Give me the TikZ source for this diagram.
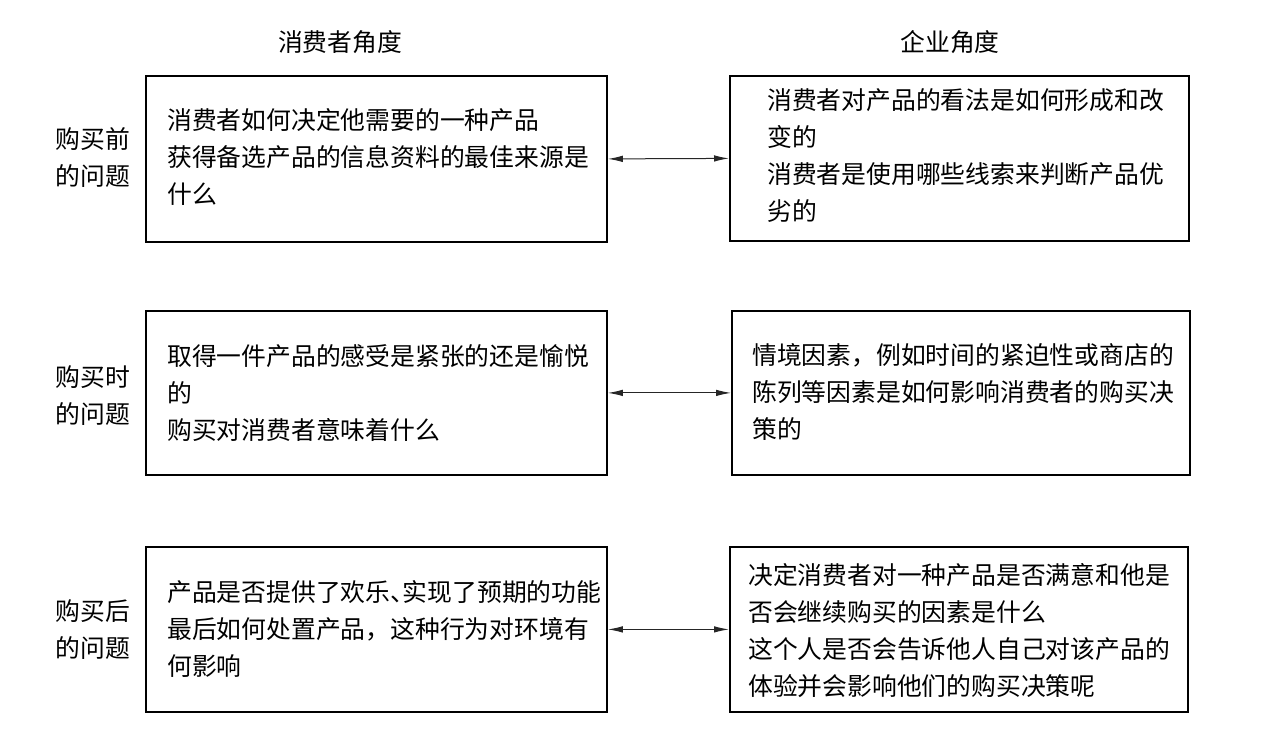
\documentclass[tikz,border=0pt]{standalone}
\usepackage{fontspec}
\newfontfamily\cjk{Noto Sans CJK SC}
\usetikzlibrary{arrows.meta}
\newcommand{\halfdun}{\makebox[0.5em][l]{、}}
\begin{document}
\begin{tikzpicture}[x=1pt,y=-1pt,
  every node/.style={font=\cjk\fontsize{24.8}{37}\selectfont, inner sep=0pt},
  boxr/.style={draw, line width=1.8pt, minimum width=#1, anchor=north west},
  txt/.style={anchor=north west, align=left},
  lab/.style={align=center},
  link/.style={arrows={Latex[length=15pt,width=6.5pt]-Latex[length=15pt,width=6.5pt]}, line width=1pt, draw=black!85}]
\useasboundingbox (0,0) rectangle (1273,734);
% headers
\node (h1) at (340,42) {消费者角度};
\node (h2) at (950,42) {企业角度};
% row labels
\node[lab] (r1) at (93,158) {购买前\\的问题};
\node[lab] (r2) at (93,396) {购买时\\的问题};
\node[lab] (r3) at (93,630) {购买后\\的问题};
% boxes
\node[boxr=461pt, minimum height=166pt] (L1) at (145,75) {};
\node[boxr=459pt, minimum height=165pt] (R1) at (729,75) {};
\node[boxr=461pt, minimum height=164pt] (L2) at (145,310) {};
\node[boxr=458pt, minimum height=164pt] (R2) at (731,310) {};
\node[boxr=461pt, minimum height=165pt] (L3) at (145,546) {};
\node[boxr=458pt, minimum height=165pt] (R3) at (729,546) {};
% texts
\node[txt] (t1) at (167,108) {消费者如何决定他需要的一种产品\\获得备选产品的信息资料的最佳来源是\\什么};
\node[txt] (t2) at (767,88) {消费者对产品的看法是如何形成和改\\变的\\消费者是使用哪些线索来判断产品优\\劣的};
\node[txt] (t3) at (167,344) {取得一件产品的感受是紧张的还是愉悦\\的\\购买对消费者意味着什么};
\node[txt] (t4) at (752,343) {情境因素，例如时间的紧迫性或商店的\\陈列等因素是如何影响消费者的购买决\\策的};
\node[txt] (t5) at (167,580) {产品是否提供了欢乐\halfdun 实现了预期的功能\\最后如何处置产品，这种行为对环境有\\何影响};
\node[txt] (t6) at (748,563) {决定消费者对一种产品是否满意和他是\\否会继续购买的因素是什么\\这个人是否会告诉他人自己对该产品的\\体验并会影响他们的购买决策呢};
% links
\draw[link] (L1.east) -- (R1.west);
\draw[link] (L2.east) -- (R2.west);
\draw[link] (L3.east) -- (R3.west);
\end{tikzpicture}
\end{document}
